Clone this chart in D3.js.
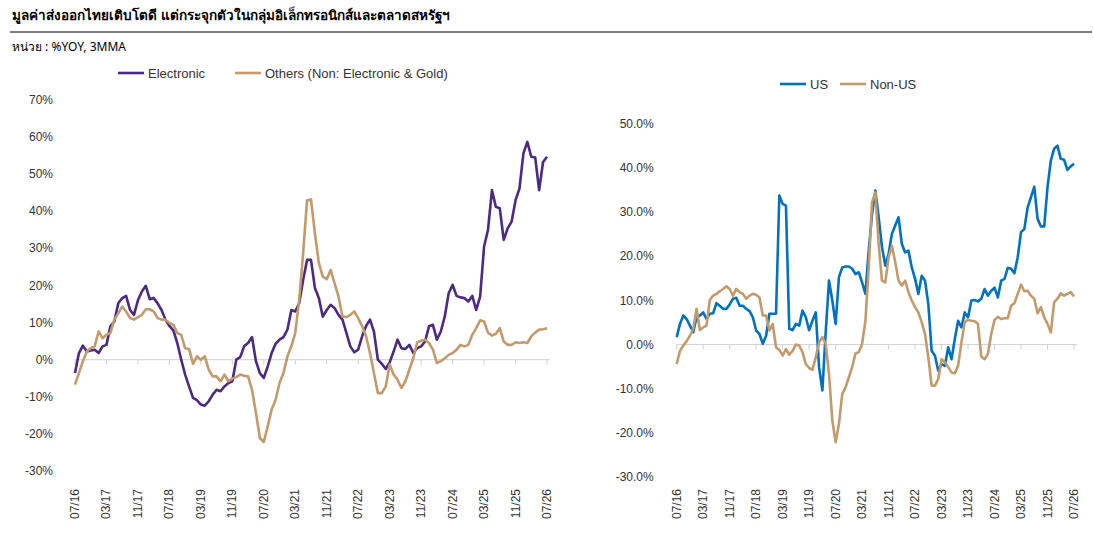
<!DOCTYPE html>
<html><head><meta charset="utf-8">
<script src="https://cdn.jsdelivr.net/npm/d3@7"></script>
<style>
body{margin:0;background:#fff;font-family:"Noto Sans","Liberation Sans",Arial,sans-serif}
text{font-family:"Liberation Sans","Noto Sans",Arial,sans-serif;fill:#333}
</style></head><body>
<script>
// monthly, 07/16 .. 07/26, %YOY 3MMA
var tickLabels = ["07/16","03/17","11/17","07/18","03/19","11/19","07/20","03/21","11/21","07/22","03/23","11/23","07/24","03/25","11/25","07/26"]
var electronic = [-3.6,1.8,3.8,2.2,2.5,2.7,1.8,3.6,4,9,10.3,15.2,16.6,17.2,13.4,12.1,16,18.4,19.9,16.3,16.6,15.2,13.4,10.8,9.1,7.9,4.5,0,-4,-7.2,-10.3,-10.9,-12.1,-12.4,-11.2,-9.4,-8.1,-8.5,-7.2,-6.3,-5.8,0,0.7,3.6,4.5,6.1,-0.4,-3.6,-4.9,-1.8,1.8,4.3,5.4,6.1,8.1,13.4,13,15.2,21.5,26.9,26.9,19.3,16.6,11.6,13.4,14.8,13.9,12.1,10.8,7.2,3.6,2,2.7,6.3,9.1,10.8,7.6,0,-1.1,-2.5,-0.7,2.2,5.4,3.1,2.9,4,1.8,3.1,3.6,4.9,9,9.4,5.4,7.6,11.6,17.9,20.2,17.2,16.8,16.6,15.7,17.2,13.4,17,30.5,35,45.7,41.2,40.8,32.3,35.4,37.2,43,46.1,55.6,58.7,54.7,54.5,45.7,53.3,54.7]
var others = [-6.7,-3.6,-0.4,2.2,3.1,3.6,7.6,5.8,6.7,7.2,10.8,12.5,14.3,13,11.2,10.8,11.5,12.1,13.6,13.6,13,11.2,10.8,10.8,9.9,9.4,7.2,6.7,3.1,2.9,-1.1,0.9,0,0.9,-2.7,-4.5,-4.5,-5.8,-4,-5.8,-5.1,-4.7,-4,-4.3,-4.5,-8.1,-14.3,-21.1,-22.2,-17.9,-13.4,-10.8,-6.3,-3.6,0.9,3.6,7.2,16.1,28.7,43,43.2,34,26,22.4,21.7,24.2,20.6,17,11.6,11.5,12.1,13,11.2,9,6.3,1.8,-3.6,-9,-9,-7.2,-1.3,-4,-5.4,-7.6,-5.8,-2.7,0.4,4.7,5.1,5.4,4.5,2.7,-0.9,-0.4,0.4,1.3,1.8,2.7,4,3.6,4,6.7,8.5,10.6,10.3,7.3,6.5,7,8.5,4.9,4,4,4.7,4.5,4.7,4.5,6.3,7.3,8.1,8.2,8.5]
var us = [1.7,4.7,6.6,5.8,4.3,2.8,6.2,6.6,7.3,5.8,7,7.1,9.4,8.8,8.1,8.1,9.1,10.4,10.6,8.8,8.8,8.1,7.6,6.2,3.2,2.4,0.2,2,7,7,7,33.8,31.9,31.5,3.6,3.3,4.7,4.3,7.7,6.2,3.3,5.4,7.3,-5.1,-10.4,2.8,14.5,10,4.7,15.3,17.5,17.7,17.7,17.2,16,16.4,14.1,11.5,21.3,29.6,34.9,28.9,22.1,17.9,20.6,25.1,27,28.9,22.8,20.9,21.3,17.5,14.9,11.5,15.6,14.5,9.2,-1.4,-2.5,-5.9,-4.4,-4.8,-0.6,-3.3,1.3,5.4,3.9,7.3,6.2,10,10.1,9.8,10.4,12.6,11.1,12.2,12.9,10.7,14.5,14.9,17.4,17.2,16.2,19.8,25.5,26.2,31.1,33.4,35.8,28.5,26.8,26.8,35.7,41.7,44.4,45.1,42.1,41.9,39.6,40.4,41]
var nonUs = [-4.4,-1.4,-0.2,0.8,2,3.6,8.1,3.3,3.9,4.3,10.1,11.1,11.5,12.1,12.6,13.2,12.6,11.1,12.6,11.9,11.5,10.4,11.1,11.5,11.3,10.7,6.6,6.6,3.2,4.7,-0.6,-1.2,-2.5,-1,-2.3,-1.4,0,-0.2,-1.7,-4.4,-5.3,-5.7,-2.9,0.5,1.7,0.2,-6.7,-17.2,-22.1,-18,-11.2,-9.7,-7.4,-5.1,-2,-1.7,0.2,5.4,17.5,32.3,34.5,22.8,14.5,14.1,19.8,22.4,18.7,14.5,13.4,14.5,11.9,10,8.5,7.3,5.1,2.4,-2.9,-9.3,-9.3,-7.8,-3.3,-4,-5.1,-6.3,-6.5,-4.8,0.5,5.1,5.6,5.4,5.3,4.7,-2.7,-3.3,-2.1,2.4,5.6,6.3,5.8,6,6,8.8,9.4,11.5,13.6,12.1,12.2,11.1,10.4,7.1,8.5,6.2,4.7,2.8,9.6,10.4,11.6,11.1,11.5,11.9,10.9]
var leftTicks = [-30,-20,-10,0,10,20,30,40,50,60,70]
var rightTicks = [-30,-20,-10,0,10,20,30,40,50]

var svg = d3.select("body").append("svg").attr("width",1093).attr("height",536)

// header
svg.append("text").attr("x",12).attr("y",20).style("font-family","'Noto Sans',sans-serif").style("font-weight","bold").style("font-size","13.5px").style("fill","#000")
  .text("มูลค่าส่งออกไทยเติบโตดี  แต่กระจุกตัวในกลุ่มอิเล็กทรอนิกส์และตลาดสหรัฐฯ")
svg.append("line").attr("x1",10).attr("x2",1092).attr("y1",32).attr("y2",32).attr("stroke","#000").attr("stroke-width",1)
svg.append("text").attr("x",12).attr("y",51).style("font-family","'Noto Sans',sans-serif").style("font-size","12px").style("fill","#000").text("หน่วย : %YOY, 3MMA")

function panel(opt)
{
    var x = d3.scaleLinear().domain([0,120]).range(opt.xr)
    var y = d3.scaleLinear().domain(opt.yd).range(opt.yr)
    var g = svg.append("g")
    // y labels
    g.selectAll(".yl").data(opt.yticks).enter().append("text").attr("x",opt.xr[0]-opt.labelGap).attr("y",d=>y(d)+4)
      .attr("text-anchor","end").style("font-size","12px").text(opt.fmt)
    // zero line + ticks
    g.append("line").attr("x1",opt.xr[0]).attr("x2",opt.xr[1]+3).attr("y1",y(0)).attr("y2",y(0)).attr("stroke","#d0d0d0")
    tickLabels.forEach(function(t,i){
        var xx = x(i*8)
        g.append("line").attr("x1",xx).attr("x2",xx).attr("y1",y(0)).attr("y2",y(0)+5).attr("stroke","#d0d0d0")
        g.append("text").attr("transform","translate("+(xx+4)+","+opt.labY+") rotate(-90)").attr("text-anchor","end").style("font-size","12px").text(t)
    })
    var line = d3.line().x((d,i)=>x(i)).y(d=>y(d))
    opt.series.forEach(function(s){
        g.append("path").datum(s.data).attr("d",line).attr("fill","none").attr("stroke",s.color).attr("stroke-width",2.6).attr("stroke-linejoin","round")
    })
    // legend
    opt.series.forEach(function(s){
        g.append("line").attr("x1",s.lx).attr("x2",s.lx+26).attr("y1",opt.legY).attr("y2",opt.legY).attr("stroke",s.color).attr("stroke-width",2.6)
        g.append("text").attr("x",s.lx+30).attr("y",opt.legY+4.5).style("font-size","13px").text(s.name)
    })
}

panel({xr:[75,547], yd:[-30,70], yr:[471,100], yticks:leftTicks, fmt:d=>d+"%", labelGap:22, labY:489, legY:73,
  series:[{name:"Electronic",data:electronic,color:"#4b2a85",lx:118},
          {name:"Others (Non: Electronic & Gold)",data:others,color:"#c49a6c",lx:235}]})
panel({xr:[676.7,1074], yd:[-30,50], yr:[477,124], yticks:rightTicks, fmt:d=>d.toFixed(1)+"%", labelGap:23, labY:489, legY:84,
  series:[{name:"US",data:us,color:"#0070c0",lx:780},
          {name:"Non-US",data:nonUs,color:"#c49a6c",lx:840}]})
</script>
</body></html>
